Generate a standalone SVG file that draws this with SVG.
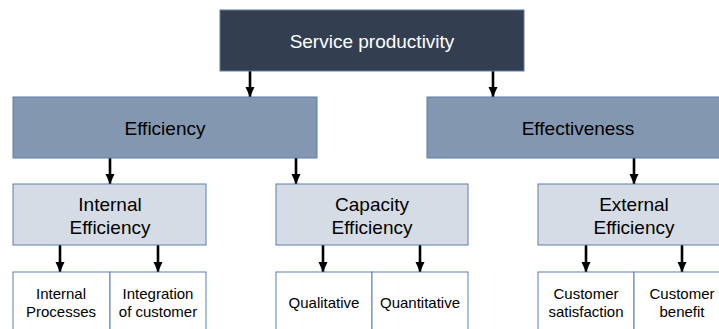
<svg xmlns="http://www.w3.org/2000/svg" width="719" height="329" viewBox="0 0 719 329">
<defs>
<style>
.t{font-family:"Liberation Sans",Arial,sans-serif;text-anchor:middle}
.l1{fill:#333f50;stroke:#5a7fad;stroke-width:1}
.l2{fill:#8497b0;stroke:#5a7fad;stroke-width:1}
.l3{fill:#d6dce5;stroke:#5a7fad;stroke-width:1}
.l4{fill:#ffffff;stroke:#5a7fad;stroke-width:1}
.big{font-size:19px;fill:#000}
.sm{font-size:15px;fill:#000}
.c{stroke:#000;stroke-width:2.6;fill:none}
</style>
<marker id="ah" markerUnits="userSpaceOnUse" markerWidth="10" markerHeight="10" viewBox="0 0 10 10" refX="10" refY="5" orient="auto">
<path d="M0,0.5 L10,5 L0,9.5 Z" fill="#000"/>
</marker>
</defs>
<g id="connectors">
<line class="c" x1="250" y1="71" x2="250" y2="97" marker-end="url(#ah)"/>
<line class="c" x1="493" y1="71" x2="493" y2="97" marker-end="url(#ah)"/>
<line class="c" x1="110" y1="158" x2="110" y2="184" marker-end="url(#ah)"/>
<line class="c" x1="296" y1="158" x2="296" y2="184" marker-end="url(#ah)"/>
<line class="c" x1="634" y1="158" x2="634" y2="184" marker-end="url(#ah)"/>
<line class="c" x1="60" y1="245" x2="60" y2="272" marker-end="url(#ah)"/>
<line class="c" x1="158" y1="245" x2="158" y2="272" marker-end="url(#ah)"/>
<line class="c" x1="323" y1="245" x2="323" y2="272" marker-end="url(#ah)"/>
<line class="c" x1="420" y1="245" x2="420" y2="272" marker-end="url(#ah)"/>
<line class="c" x1="586" y1="245" x2="586" y2="272" marker-end="url(#ah)"/>
<line class="c" x1="682" y1="245" x2="682" y2="272" marker-end="url(#ah)"/>
</g>
<g id="service-productivity">
<rect class="l1" x="220" y="10" width="304" height="61"/>
<text class="t" x="372" y="48" font-size="19" fill="#ffffff">Service productivity</text>
</g>
<g id="efficiency">
<rect class="l2" x="13" y="97" width="304" height="61"/>
<text class="t big" x="165" y="135">Efficiency</text>
</g>
<g id="effectiveness">
<rect class="l2" x="427" y="97" width="300" height="61"/>
<text class="t big" x="578" y="135">Effectiveness</text>
</g>
<g id="internal-efficiency">
<rect class="l3" x="13" y="184" width="193" height="61"/>
<text class="t big" x="110" y="211">Internal</text>
<text class="t big" x="110" y="234">Efficiency</text>
</g>
<g id="capacity-efficiency">
<rect class="l3" x="276" y="184" width="192" height="61"/>
<text class="t big" x="372" y="211">Capacity</text>
<text class="t big" x="372" y="234">Efficiency</text>
</g>
<g id="external-efficiency">
<rect class="l3" x="538" y="184" width="190" height="61"/>
<text class="t big" x="634" y="211">External</text>
<text class="t big" x="634" y="234">Efficiency</text>
</g>
<g id="internal-processes">
<rect class="l4" x="13" y="272" width="97" height="70"/>
<text class="t sm" x="61" y="299">Internal</text>
<text class="t sm" x="61" y="317">Processes</text>
</g>
<g id="integration-of-customer">
<rect class="l4" x="110" y="272" width="96" height="70"/>
<text class="t sm" x="158" y="299">Integration</text>
<text class="t sm" x="158" y="317">of customer</text>
</g>
<g id="qualitative">
<rect class="l4" x="276" y="272" width="96" height="70"/>
<text class="t sm" x="324" y="308">Qualitative</text>
</g>
<g id="quantitative">
<rect class="l4" x="372" y="272" width="96" height="70"/>
<text class="t sm" x="420" y="308">Quantitative</text>
</g>
<g id="customer-satisfaction">
<rect class="l4" x="538" y="272" width="96" height="70"/>
<text class="t sm" x="586" y="299">Customer</text>
<text class="t sm" x="586" y="317">satisfaction</text>
</g>
<g id="customer-benefit">
<rect class="l4" x="634" y="272" width="96" height="70"/>
<text class="t sm" x="682" y="299">Customer</text>
<text class="t sm" x="682" y="317">benefit</text>
</g>
</svg>
